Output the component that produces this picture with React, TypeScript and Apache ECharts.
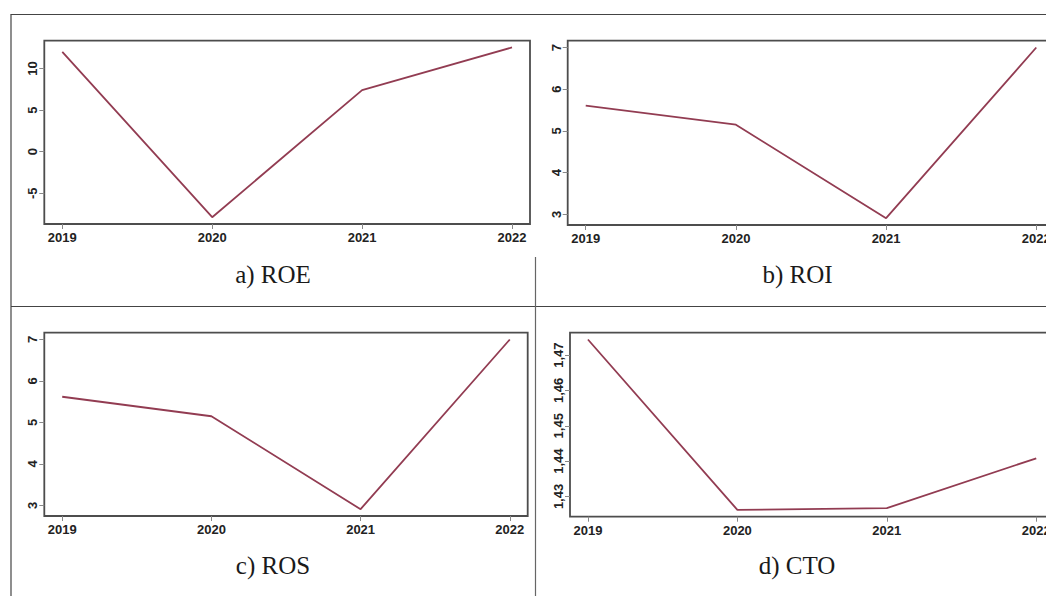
import React, { useEffect, useRef } from "react";
import * as echarts from "echarts";

// ---- data ----
const years = [2019, 2020, 2021, 2022];
const roeValues = [12.0, -7.88, 7.4, 12.52];
const roiValues = [5.61, 5.15, 2.91, 7.0];
const rosValues = [5.62, 5.15, 2.91, 7.0];
const ctoValues = [1.4744, 1.4262, 1.4267, 1.4408];

const roeTicks = [-5, 0, 5, 10];
const roiTicks = [3, 4, 5, 6, 7];
const rosTicks = [3, 4, 5, 6, 7];
const ctoTicks = [1.43, 1.44, 1.45, 1.46, 1.47];

const titles = ["a) ROE", "b) ROI", "c) ROS", "d) CTO"];

// ---- layout ----
const panels = [
  { values: roeValues, ticks: roeTicks, grid: { left: 44.3, top: 40.7, width: 485.7, height: 183.3 }, title: { x: 273, y: 274 }, comma: false },
  { values: roiValues, ticks: roiTicks, grid: { left: 567.7, top: 40.7, width: 486.6, height: 184.3 }, title: { x: 797.5, y: 274 }, comma: false },
  { values: rosValues, ticks: rosTicks, grid: { left: 44.3, top: 332.7, width: 483.4, height: 183.3 }, title: { x: 273, y: 565 }, comma: false },
  { values: ctoValues, ticks: ctoTicks, grid: { left: 570, top: 332.7, width: 484.2, height: 184 }, title: { x: 797, y: 565 }, comma: true },
];

// R-style 4% axis extension
const ext = (arr: number[]) => {
  const lo = Math.min(...arr);
  const hi = Math.max(...arr);
  const d = (hi - lo) * 0.04;
  return [lo - d, hi + d];
};

const LINE_COLOR = "#923c52";
const BOX_COLOR = "#4d4d4d";
const LABEL_FONT = "'Liberation Sans', Arial, sans-serif";

export default function App() {
  const ref = useRef<HTMLDivElement>(null);

  useEffect(() => {
    if (!ref.current) return;
    const chart = echarts.init(ref.current, undefined, { renderer: "svg" });
    const [xMin, xMax] = ext(years);

    const grids: any[] = [];
    const xAxes: any[] = [];
    const yAxes: any[] = [];
    const series: any[] = [];

    panels.forEach((p, i) => {
      const [yMin, yMax] = ext(p.values);
      grids.push({
        ...p.grid,
        show: true,
        borderColor: BOX_COLOR,
        borderWidth: 1.8,
        backgroundColor: "transparent",
        containLabel: false,
      });
      xAxes.push({
        type: "value",
        gridIndex: i,
        position: "bottom",
        min: xMin,
        max: xMax,
        axisLine: { show: false, onZero: false },
        splitLine: { show: false },
        axisTick: { show: true, length: 5, lineStyle: { color: "#888", width: 1 }, customValues: years },
        axisLabel: {
          customValues: years,
          margin: 7,
          fontSize: 13,
          fontWeight: "bold",
          fontFamily: LABEL_FONT,
          color: "#222",
          formatter: (v: number) => String(v),
        },
      });
      yAxes.push({
        type: "value",
        gridIndex: i,
        position: "left",
        min: yMin,
        max: yMax,
        axisLine: { show: false, onZero: false },
        splitLine: { show: false },
        axisTick: { show: true, length: 5, lineStyle: { color: "#888", width: 1 }, customValues: p.ticks },
        axisLabel: {
          customValues: p.ticks,
          rotate: 90,
          margin: 5,
          fontSize: 13,
          fontWeight: "bold",
          fontFamily: LABEL_FONT,
          color: "#222",
          formatter: (v: number) =>
            p.comma ? v.toFixed(2).replace(".", ",") : String(Math.round(v)),
        },
      });
      series.push({
        type: "line",
        xAxisIndex: i,
        yAxisIndex: i,
        data: years.map((y, k) => [y, p.values[k]]),
        showSymbol: false,
        symbol: "none",
        lineStyle: { color: LINE_COLOR, width: 1.8 },
        clip: false,
      });
    });

    const frameLine = (x1: number, y1: number, x2: number, y2: number, color = "#444") => ({
      type: "line",
      silent: true,
      shape: { x1, y1, x2, y2 },
      style: { stroke: color, lineWidth: 1.2 },
    });

    const graphic: any[] = [
      frameLine(10.5, 14.5, 1080, 14.5),
      frameLine(11, 14.5, 11, 596),
      frameLine(11, 306.5, 1080, 306.5),
      frameLine(535.5, 257, 535.5, 596, "#666"),
      ...panels.map((p, i) => ({
        type: "text",
        silent: true,
        x: p.title.x,
        y: p.title.y,
        style: {
          text: titles[i],
          fill: "#1a1a1a",
          font: "25px 'Liberation Serif', 'Times New Roman', serif",
          align: "center",
          verticalAlign: "middle",
        },
      })),
    ];

    chart.setOption({
      animation: false,
      backgroundColor: "#ffffff",
      grid: grids,
      xAxis: xAxes,
      yAxis: yAxes,
      series,
      graphic,
    });

    return () => chart.dispose();
  }, []);

  return (
    <div
      style={{
        position: "absolute",
        left: 0,
        top: 0,
        width: 1046,
        height: 596,
        overflow: "hidden",
        background: "#fff",
      }}
    >
      <div ref={ref} style={{ width: 1080, height: 596 }} />
    </div>
  );
}
